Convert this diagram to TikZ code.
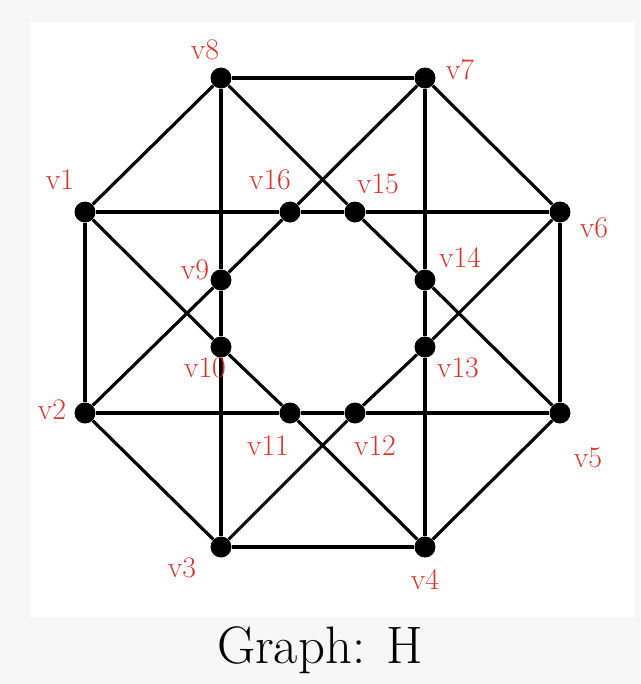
\documentclass[tikz,border=0pt]{standalone}
\usepackage{xcolor}
\usetikzlibrary{positioning}
\definecolor{lblred}{HTML}{D8352F}
\begin{document}
\begin{tikzpicture}[x=0.02cm, y=-0.02cm,
    vert/.style={circle, fill=black, minimum size=4.2mm, inner sep=0pt},
    edge/.style={line width=1.8pt},
    lab/.style={text=lblred, font=\fontsize{17}{18}\selectfont}]
    \useasboundingbox (0,0) rectangle (640,684);
    \fill[black!3] (0,0) rectangle (640,684);
    \fill[white] (30,22) rectangle (635,617);
    % vertices
    \foreach \n/\x/\y in {1/85/212, 2/85/413, 3/221/547, 4/425/547, 5/560/413, 6/560/212,
        7/425/78, 8/221/78, 9/221/280, 10/221/347, 11/290/413, 12/355/413,
        13/425/347, 14/425/280, 15/355/212, 16/290/212}
        \node[vert] (v\n) at (\x,\y) {};
    % edges
    \foreach \a/\b in {8/7, 7/6, 6/5, 5/4, 4/3, 3/2, 2/1, 1/8,
        1/16, 16/15, 15/6, 2/11, 11/12, 12/5,
        8/9, 9/10, 10/3, 7/14, 14/13, 13/4,
        8/15, 15/14, 14/5, 7/16, 16/9, 9/2,
        1/10, 10/11, 11/4, 6/13, 13/12, 12/3}
        \draw[edge] (v\a) -- (v\b);
    % labels
    \foreach \n/\x/\y in {1/60/180, 2/52/410, 3/182/568, 4/425/580, 5/588/458, 6/594/228,
        7/460/70, 8/205/50, 9/195/270, 10/205/368, 11/268/446, 12/375/446,
        13/458/368, 14/460/258, 15/378/184, 16/270/180}
        \node[lab] (l\n) at (\x,\y) {v\n};
    \node[font=\fontsize{30}{32}\selectfont] (title) at (320,650) {Graph: H};
\end{tikzpicture}
\end{document}
